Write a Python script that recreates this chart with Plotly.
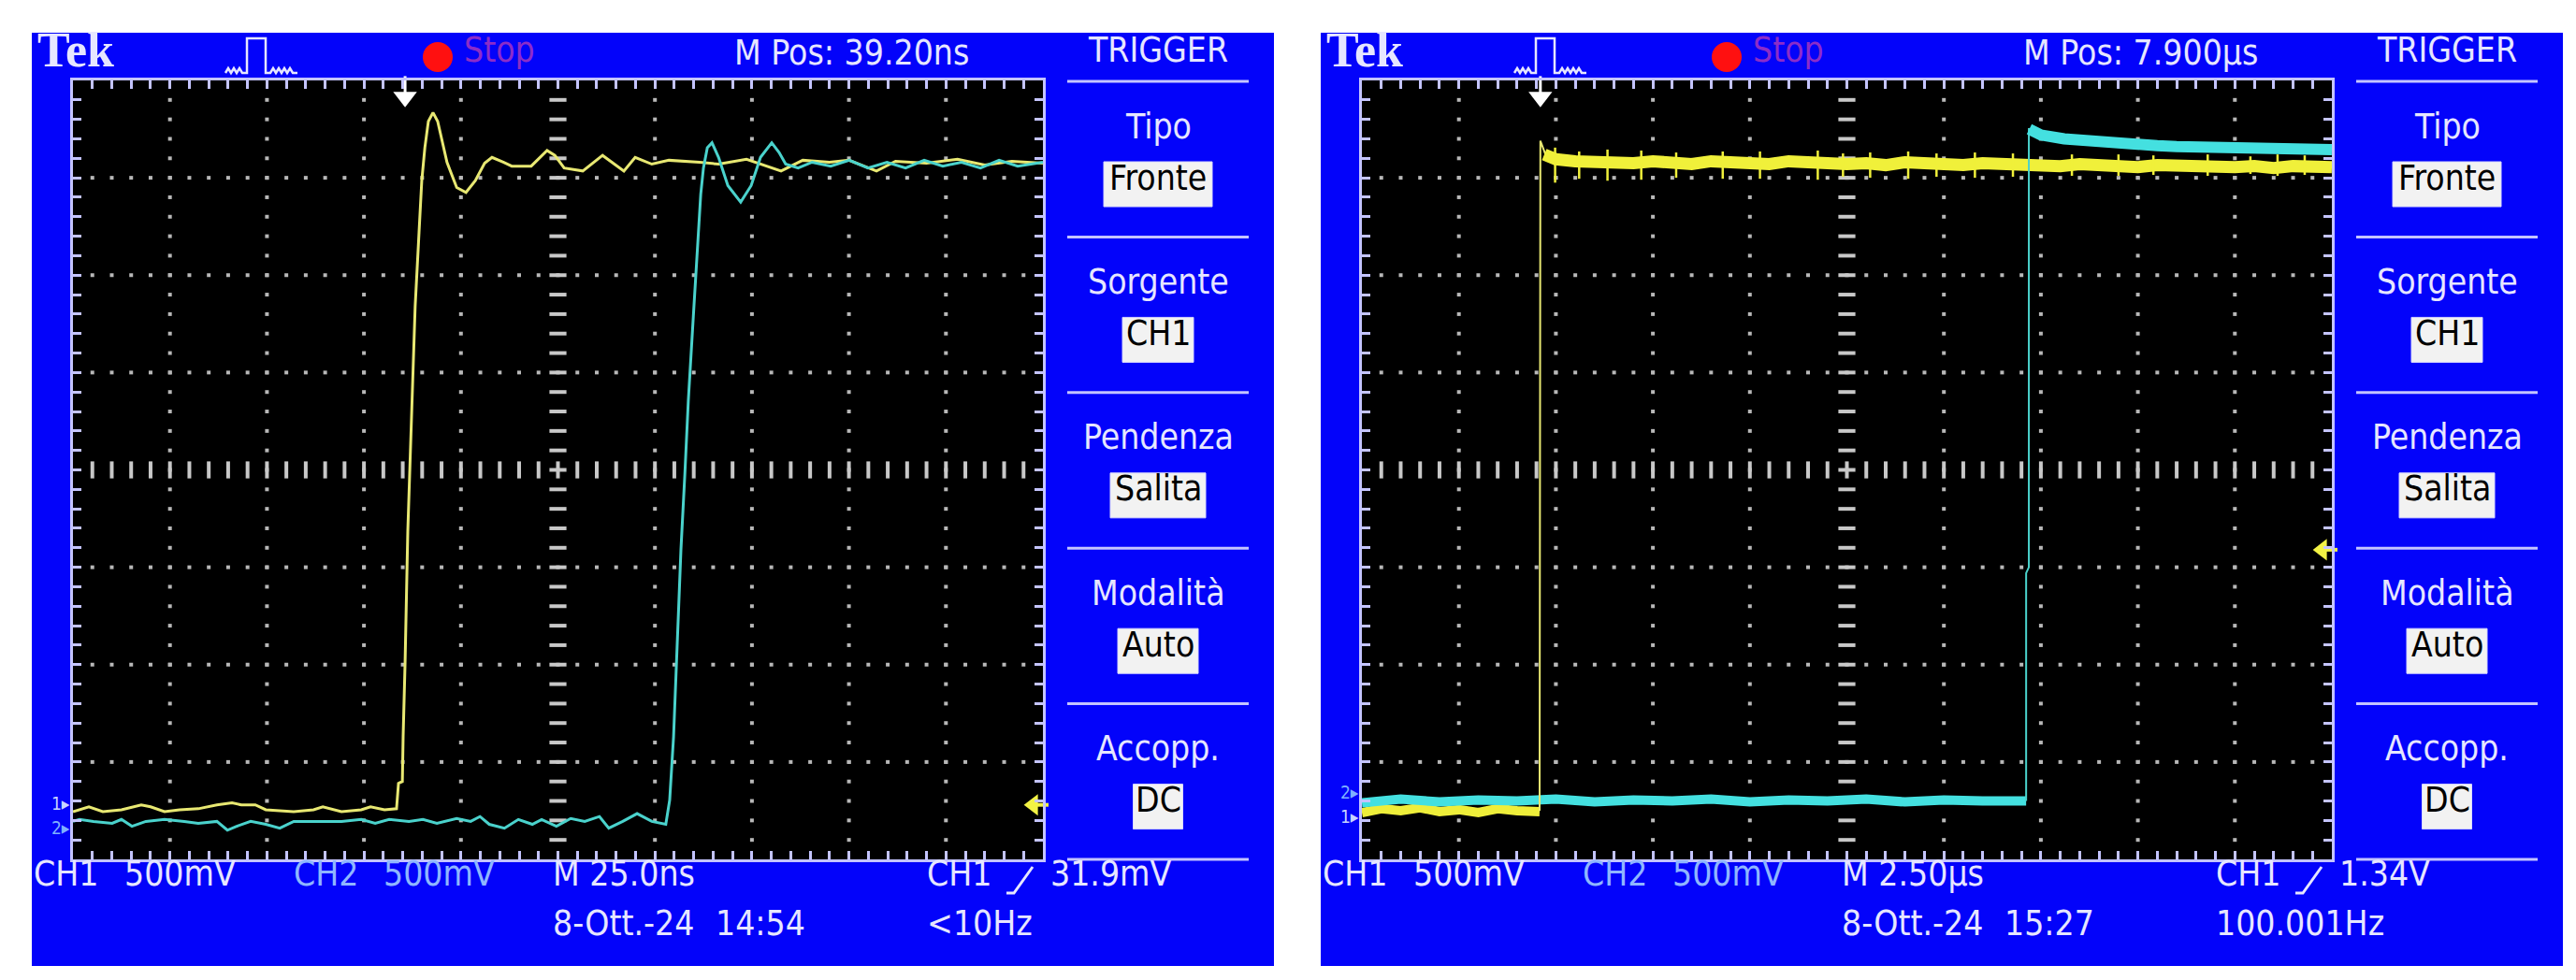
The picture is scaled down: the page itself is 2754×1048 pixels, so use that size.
import numpy as np
import plotly.graph_objects as go

W, H = 2754, 1048
FONT = "DejaVu Sans Condensed, DejaVu Sans, sans-serif"
SERIF = "Liberation Serif, Times New Roman, serif"
BLUE = "#0303fa"
INK = "#e6e6ff"
EDGE = "#c4c4ff"
CH2_INK = "#8fb6ff"

# capture A: 25 ns/div, time in ns, level in screen divisions
a_ch1_t = [0, 4.1, 7.7, 12.5, 17.6, 20.0, 23.6, 27.5, 32.3, 37.1, 41.0, 43.4, 47.0, 49.7,
           56.9, 62.0, 64.4, 69.2, 74.3, 76.7, 80.3, 83.4, 83.9, 84.9, 85.1, 85.6, 86.3,
           87.3, 88.2, 89.2, 89.9, 90.7, 91.6, 92.8, 94.0, 96.4, 98.9, 101.3, 103.7, 106.1,
           108.0, 110.9, 113.1, 118.1, 122.2, 124.2, 126.6, 131.4, 136.5, 142.0, 144.9,
           149.2, 153.6, 161.5, 166.4, 173.6, 182.5, 188.1, 195, 200, 207.1, 212, 220, 228,
           235, 242, 250]
a_ch1_v = [-3.51, -3.46, -3.51, -3.49, -3.44, -3.46, -3.51, -3.49, -3.48, -3.44, -3.42,
           -3.44, -3.44, -3.49, -3.51, -3.49, -3.46, -3.51, -3.49, -3.46, -3.49, -3.48,
           -3.22, -3.20, -2.74, -1.98, -0.63, 0.71, 1.68, 2.44, 2.97, 3.31, 3.58, 3.67,
           3.58, 3.16, 2.90, 2.85, 2.97, 3.15, 3.21, 3.16, 3.12, 3.12, 3.28, 3.23, 3.10,
           3.07, 3.23, 3.07, 3.21, 3.14, 3.18, 3.16, 3.14, 3.19, 3.07, 3.18, 3.16, 3.18,
           3.07, 3.17, 3.15, 3.19, 3.13, 3.17, 3.15]
a_ch2_t = [0, 1.7, 5.3, 10.1, 12.5, 15.2, 18.8, 23.6, 28.7, 32.3, 37.1, 39.8, 42.2, 45.8,
           49.7, 53.3, 56.9, 62.0, 69.2, 74.3, 77.9, 81.5, 86.6, 90.2, 93.8, 98.9, 102.5,
           104.9, 107.3, 111.2, 114.8, 118.4, 120.8, 124.6, 128.3, 131.9, 135.7, 138.1,
           141.7, 145.4, 149.2, 152.8, 153.8, 154.8, 155.8, 156.7, 157.7, 158.6, 159.9,
           161.1, 161.8, 162.5, 163.5, 164.7, 166.4, 168.8, 172.1, 174.8, 177.2, 180.1,
           182.0, 183.7, 186.9, 190.5, 195.3, 200.1, 204.9, 209.8, 214.6, 219.4, 224.2,
           229.0, 233.9, 238.7, 243.5, 250]
a_ch2_v = [-3.61, -3.59, -3.61, -3.63, -3.59, -3.66, -3.61, -3.59, -3.61, -3.63, -3.61,
           -3.70, -3.66, -3.61, -3.64, -3.68, -3.61, -3.61, -3.61, -3.59, -3.63, -3.59,
           -3.61, -3.59, -3.63, -3.58, -3.61, -3.56, -3.64, -3.68, -3.59, -3.64, -3.59,
           -3.66, -3.58, -3.61, -3.56, -3.68, -3.61, -3.53, -3.61, -3.64, -3.39, -2.74,
           -1.78, -0.82, -0.05, 0.71, 1.58, 2.44, 2.83, 3.10, 3.31, 3.36, 3.21, 2.92,
           2.75, 2.92, 3.21, 3.36, 3.26, 3.14, 3.10, 3.16, 3.12, 3.18, 3.10, 3.16, 3.10,
           3.18, 3.12, 3.16, 3.10, 3.18, 3.12, 3.16]

# capture B: 2.5 us/div, time in us, level in screen divisions
b_ch1_low_t = [0, 0.5, 1.0, 1.5, 2.0, 2.5, 3.0, 3.5, 4.0, 4.58]
b_ch1_low_v = [-3.52, -3.48, -3.50, -3.47, -3.51, -3.49, -3.52, -3.48, -3.50, -3.51]
b_ch1_edge_t = [4.58, 4.60, 4.75]
b_ch1_edge_v = [-3.50, 3.38, 3.22]
b_ch1_high_t = [4.7, 5.0, 5.5, 6.0, 6.5, 7.0, 7.5, 8.0, 8.5, 9.0, 9.5, 10.0, 10.5, 11.0,
                11.5, 12.0, 12.5, 13.0, 13.5, 14.0, 14.5, 15.0, 15.5, 16.0, 16.5, 17.0,
                17.5, 18.0, 18.5, 19.0, 19.5, 20.0, 20.5, 21.0, 21.5, 22.0, 22.5, 23.0,
                23.5, 24.0, 24.5, 25.0]
b_ch1_high_v = [3.24, 3.19, 3.17, 3.16, 3.18, 3.15, 3.17, 3.16, 3.14, 3.17, 3.15, 3.16,
                3.14, 3.17, 3.15, 3.16, 3.14, 3.15, 3.13, 3.16, 3.14, 3.15, 3.13, 3.15,
                3.14, 3.12, 3.14, 3.12, 3.14, 3.12, 3.13, 3.11, 3.13, 3.12, 3.11, 3.13,
                3.11, 3.12, 3.10, 3.12, 3.11, 3.11]
b_ch1_spike_t = [4.98, 5.6, 6.33, 7.20, 8.1, 9.3, 10.26, 11.75, 12.4, 13.10, 14.08, 14.81,
                 15.80, 16.78, 18.3, 19.5, 20.4, 21.8, 22.9, 23.6, 24.3]
b_ch1_spike_v = [3.31, 3.27, 3.29, 3.28, 3.26, 3.27, 3.27, 3.28, 3.25, 3.26, 3.27, 3.25,
                 3.26, 3.25, 3.24, 3.24, 3.23, 3.24, 3.22, 3.24, 3.23]
b_ch2_low_t = [0, 1, 2, 3, 4, 5, 6, 7, 8, 9, 10, 11, 12, 13, 14, 15, 16, 17.12]
b_ch2_low_v = [-3.42, -3.38, -3.41, -3.39, -3.40, -3.38, -3.41, -3.39, -3.40, -3.38,
               -3.41, -3.39, -3.40, -3.38, -3.41, -3.39, -3.40, -3.40]
b_ch2_edge_t = [17.12, 17.12, 17.19, 17.19]
b_ch2_edge_v = [-3.40, -1.06, -1.00, 3.51]
b_ch2_high_t = [17.2, 17.5, 18.1, 18.6, 19.3, 20.0, 20.5, 21.0, 21.7, 22.3, 22.9, 23.5,
                24.2, 25.0]
b_ch2_high_v = [3.50, 3.44, 3.40, 3.38, 3.35, 3.34, 3.33, 3.32, 3.31, 3.31, 3.30, 3.30,
                3.29, 3.29]

# screen settings of the two captures
panels = [
    {"dx": 0, "xdiv": 25.0, "mpos": "M Pos: 39.20ns", "tb": "M 25.0ns", "lvl": "31.9mV",
     "date": "8-Ott.-24", "clock": "14:54", "freq": "&lt;10Hz", "trig_t": 85.6,
     "trig_lvl": -3.44, "gnd1": -3.42, "gnd2": -3.67},
    {"dx": 1378, "xdiv": 2.5, "mpos": "M Pos: 7.900µs", "tb": "M 2.50µs", "lvl": "1.34V",
     "date": "8-Ott.-24", "clock": "15:27", "freq": "100.001Hz", "trig_t": 4.6,
     "trig_lvl": -0.82, "gnd1": -3.56, "gnd2": -3.31},
]
menu_titles = ["Tipo", "Sorgente", "Pendenza", "Modalità", "Accopp."]
menu_values = ["Fronte", "CH1", "Salita", "Auto", "DC"]
menu_box_w = [116, 76, 102, 86, 53]


def fx(px):
    return px / W


def fy(py):
    return 1 - py / H


def ppath(pts):
    return "M" + " L".join(f"{fx(x):.5f},{fy(y):.5f}" for x, y in pts)


fig = go.Figure()
shapes = []
anns = []


def txt(x, y, s, size=37, color=INK, anchor="left", family=FONT):
    # y is the wanted centre of the capitals; shift up for the descender room
    anns.append(dict(x=fx(x), y=fy(y), xref="paper", yref="paper", text=s,
                     showarrow=False, xanchor=anchor, yanchor="middle",
                     yshift=round(0.2 * size),
                     font=dict(size=size, color=color, family=family)))


def line(xa, ya, t, v, color, width):
    fig.add_trace(go.Scatter(x=t, y=v, mode="lines", xaxis=xa, yaxis=ya,
                             line=dict(color=color, width=width), hoverinfo="skip"))


for i, p in enumerate(panels):
    dx = p["dx"]
    xa = "x" if i == 0 else "x2"
    ya = "y" if i == 0 else "y2"
    xdiv = p["xdiv"]

    # bezel and screen
    shapes.append(dict(type="rect", xref="paper", yref="paper", layer="below",
                       x0=fx(26 + dx), x1=fx(1354 + dx), y0=fy(1025), y1=fy(27),
                       fillcolor=BLUE, line=dict(width=0)))
    shapes.append(dict(type="rect", xref="paper", yref="paper", layer="below",
                       x0=fx(70 + dx), x1=fx(1107 + dx), y0=fy(911), y1=fy(78),
                       fillcolor="black", line=dict(width=0)))

    # graticule
    ys_minor = np.round(np.arange(-3.8, 3.81, 0.2), 2)
    xs_minor = np.arange(1, 50) * xdiv / 5
    gx, gy = [], []
    for k in range(1, 10):
        if k != 5:
            gx += [k * xdiv] * len(ys_minor)
            gy += list(ys_minor)
    for k in [-3, -2, -1, 1, 2, 3]:
        gx += list(xs_minor)
        gy += [k] * len(xs_minor)
    fig.add_trace(go.Scatter(x=gx, y=gy, mode="markers", xaxis=xa, yaxis=ya,
                             marker=dict(symbol="square", size=4, color="#b8b8b8"),
                             hoverinfo="skip"))
    fig.add_trace(go.Scatter(x=[5 * xdiv] * len(ys_minor), y=ys_minor, mode="markers",
                             xaxis=xa, yaxis=ya, hoverinfo="skip",
                             marker=dict(symbol="line-ew", size=13,
                                         line=dict(width=4, color="#c8c8c8"))))
    fig.add_trace(go.Scatter(x=xs_minor, y=[0] * len(xs_minor), mode="markers",
                             xaxis=xa, yaxis=ya, hoverinfo="skip",
                             marker=dict(symbol="line-ns", size=13,
                                         line=dict(width=4, color="#c8c8c8"))))

    # waveforms
    if i == 0:
        line(xa, ya, a_ch1_t, a_ch1_v, "#e8e872", 3)
        line(xa, ya, a_ch2_t, a_ch2_v, "#4ad2cc", 3)
    else:
        line(xa, ya, b_ch1_low_t, b_ch1_low_v, "#eeee3a", 10)
        line(xa, ya, b_ch2_low_t, b_ch2_low_v, "#44e0e0", 10)
        line(xa, ya, b_ch1_edge_t, b_ch1_edge_v, "#e8e872", 2)
        line(xa, ya, b_ch1_high_t, b_ch1_high_v, "#f0f03a", 13)
        sx, sy = [], []
        for t, v in zip(b_ch1_spike_t, b_ch1_spike_v):
            sx += [t, t, None]
            sy += [v, 2 * 3.13 - v, None]
        line(xa, ya, sx, sy, "#f0f03a", 2.5)
        line(xa, ya, b_ch2_edge_t, b_ch2_edge_v, "#4ad2cc", 2)
        line(xa, ya, b_ch2_high_t, b_ch2_high_v, "#44e0e0", 12)

    # trigger position and level markers
    fig.add_trace(go.Scatter(x=[p["trig_t"]], y=[3.95], mode="markers", xaxis=xa, yaxis=ya,
                             cliponaxis=False, hoverinfo="skip",
                             marker=dict(symbol="line-ns", size=14,
                                         line=dict(width=3, color="white"))))
    fig.add_trace(go.Scatter(x=[p["trig_t"]], y=[3.83], mode="markers", xaxis=xa, yaxis=ya,
                             cliponaxis=False, hoverinfo="skip",
                             marker=dict(symbol="triangle-down", size=22, color="white")))
    fig.add_trace(go.Scatter(x=[9.9 * xdiv], y=[p["trig_lvl"]], mode="markers",
                             xaxis=xa, yaxis=ya, cliponaxis=False, hoverinfo="skip",
                             marker=dict(symbol="triangle-left", size=20, color="#f2f244")))
    fig.add_trace(go.Scatter(x=[9.99 * xdiv], y=[p["trig_lvl"]], mode="markers",
                             xaxis=xa, yaxis=ya, cliponaxis=False, hoverinfo="skip",
                             marker=dict(symbol="line-ew", size=10,
                                         line=dict(width=4, color="#f2f244"))))

    # channel ground markers
    for lab, g, col in [("1▸", p["gnd1"], "#c8d4ff"), ("2▸", p["gnd2"], "#7fb0ff")]:
        anns.append(dict(x=0, y=g, xref=f"{xa} domain", yref=ya, text=lab, showarrow=False,
                         xanchor="right", yanchor="middle", xshift=-1,
                         font=dict(size=19, color=col, family=FONT)))

    # header
    txt(30 + dx, 56, "<b>Tek</b>", size=52, family=SERIF)
    shapes.append(dict(type="path", xref="paper", yref="paper",
                       path=ppath([(233 + dx, 70), (236 + dx, 65), (239 + dx, 70),
                                   (242 + dx, 65), (245 + dx, 70), (248 + dx, 65),
                                   (251 + dx, 70), (256 + dx, 70), (256 + dx, 33),
                                   (276 + dx, 33), (276 + dx, 70), (281 + dx, 70),
                                   (284 + dx, 65), (287 + dx, 70), (290 + dx, 65),
                                   (293 + dx, 70), (296 + dx, 65), (299 + dx, 70),
                                   (302 + dx, 65), (305 + dx, 70), (310 + dx, 70)]),
                       line=dict(color=INK, width=2.5)))
    shapes.append(dict(type="circle", xref="paper", yref="paper",
                       x0=fx(444 + dx), x1=fx(476 + dx), y0=fy(69), y1=fy(37),
                       fillcolor="#ff1010", line=dict(width=0)))
    txt(486 + dx, 53, "Stop", color="#8c2cc8")
    txt(775 + dx, 55, p["mpos"])
    txt(1230 + dx, 53, "TRIGGER", anchor="center")

    # trigger menu
    for k in range(6):
        yy = 79 + k * 166.4
        shapes.append(dict(type="line", xref="paper", yref="paper",
                           x0=fx(1133 + dx), x1=fx(1327 + dx), y0=fy(yy), y1=fy(yy),
                           line=dict(color=EDGE, width=3)))
    for k in range(5):
        top = 79 + k * 166.4
        txt(1230 + dx, top + 55, menu_titles[k], anchor="center")
        bw = menu_box_w[k]
        shapes.append(dict(type="rect", xref="paper", yref="paper",
                           x0=fx(1230 + dx - bw / 2), x1=fx(1230 + dx + bw / 2),
                           y0=fy(top + 134), y1=fy(top + 86),
                           fillcolor="#f2f2f2", line=dict(color="#d8d8ff", width=1)))
        txt(1230 + dx, top + 110, menu_values[k], color="black", anchor="center")

    # status lines
    row1, row2 = 933, 986
    txt(26 + dx, row1, "CH1")
    txt(123 + dx, row1, "500mV")
    txt(304 + dx, row1, "CH2", color=CH2_INK)
    txt(400 + dx, row1, "500mV", color=CH2_INK)
    txt(581 + dx, row1, p["tb"])
    txt(981 + dx, row1, "CH1")
    shapes.append(dict(type="path", xref="paper", yref="paper",
                       path=ppath([(1068 + dx, 947), (1076 + dx, 947), (1096 + dx, 919)]),
                       line=dict(color=INK, width=3)))
    txt(1113 + dx, row1, p["lvl"])
    txt(581 + dx, row2, p["date"])
    txt(755 + dx, row2, p["clock"])
    txt(981 + dx, row2, p["freq"])

axis_common = dict(showgrid=False, zeroline=False, showticklabels=False, ticks="inside",
                   ticklen=9, tickwidth=3, tickcolor=EDGE, showline=True, linecolor=EDGE,
                   linewidth=3, mirror="ticks", fixedrange=True)
gy0, gy1 = 1 - 911 / H, 1 - 78 / H
fig.update_layout(
    width=W, height=H, autosize=False,
    margin=dict(l=0, r=0, t=0, b=0, pad=0),
    paper_bgcolor="white", plot_bgcolor="rgba(0,0,0,0)",
    showlegend=False,
    shapes=shapes, annotations=anns,
    xaxis=dict(domain=[70 / W, 1107 / W], range=[0, 250], tick0=0, dtick=5, **axis_common),
    yaxis=dict(domain=[gy0, gy1], range=[-4, 4], tick0=0, dtick=0.2, **axis_common),
    xaxis2=dict(domain=[1448 / W, 2485 / W], range=[0, 25], tick0=0, dtick=0.5,
                **axis_common),
    yaxis2=dict(domain=[gy0, gy1], range=[-4, 4], tick0=0, dtick=0.2, anchor="x2",
                **axis_common),
)
fig.update_layout(xaxis2_anchor="y2")

fig.write_html("out.html")
